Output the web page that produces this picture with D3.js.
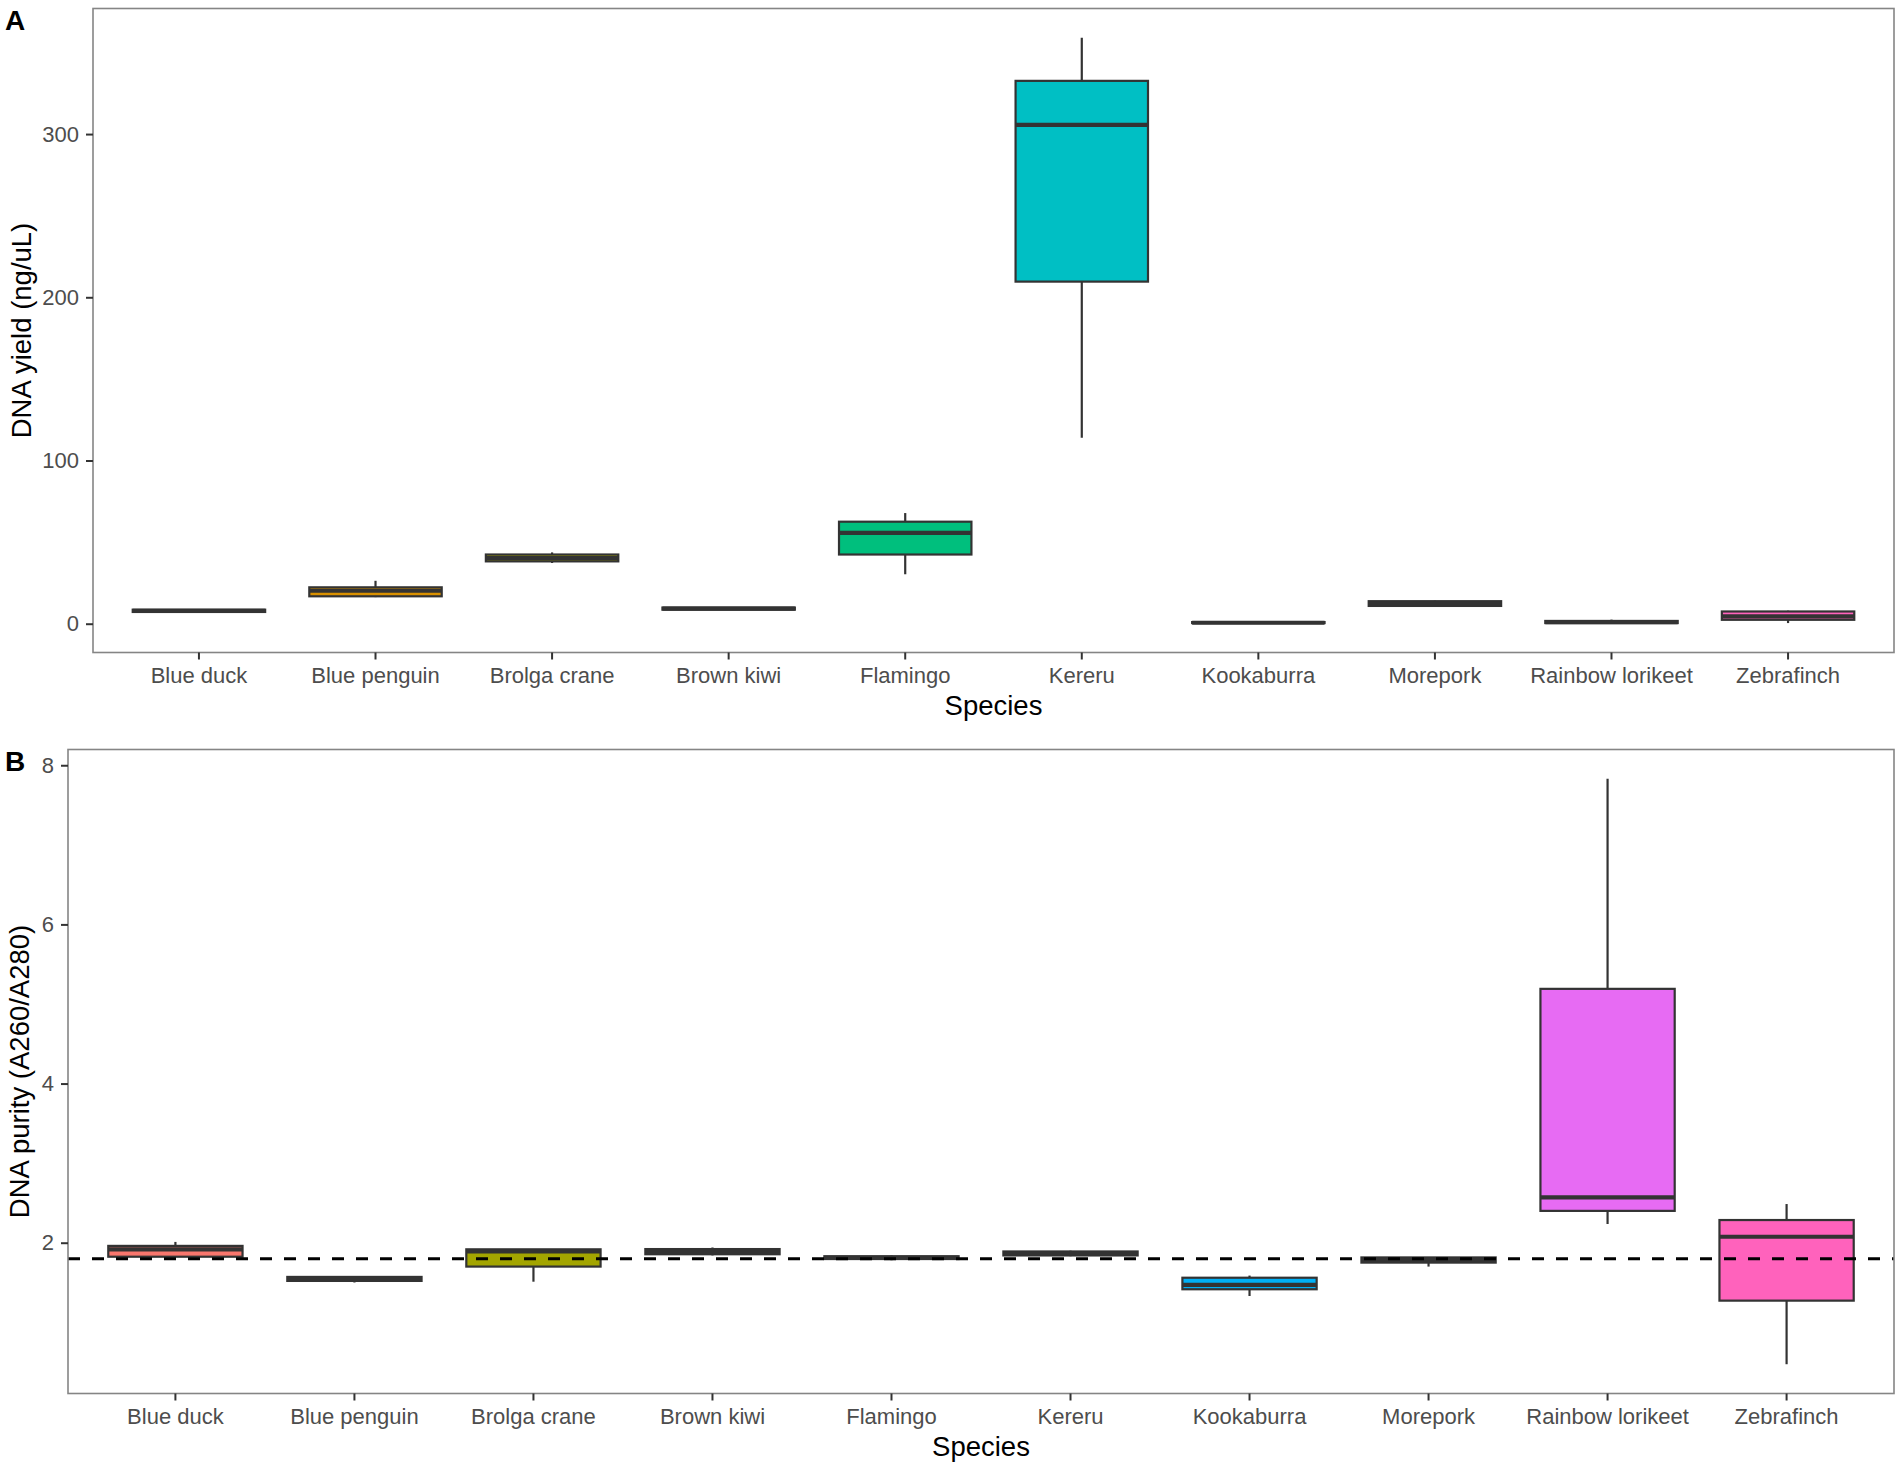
<!DOCTYPE html>
<html>
<head>
<meta charset="utf-8">
<script src="https://cdn.jsdelivr.net/npm/d3@7"></script>
<style>
  body { margin: 0; background: #fff; }
  text { font-family: "Liberation Sans", Arial, sans-serif; }
</style>
</head>
<body>
<div id="my_viz"></div>
<script>
const species = ['Blue duck', 'Blue penguin', 'Brolga crane', 'Brown kiwi', 'Flamingo',
    'Kereru', 'Kookaburra', 'Morepork', 'Rainbow lorikeet', 'Zebrafinch'];
const colors = ['#F8766D', '#D89000', '#A3A500', '#39B600', '#00BF7D',
    '#00BFC4', '#00B0F6', '#9590FF', '#E76BF3', '#FF62BC'];

// panel A: DNA yield (ng/uL)
const yieldMin = [6.8, 16.3, 37.2, 8.4, 30.3, 114, 0.3, 10.6, 0.3, 0.4];
const yieldQ1 = [7.2, 16.8, 38.2, 8.6, 42.4, 209.6, 0.4, 10.9, 0.4, 2.4];
const yieldMed = [7.9, 20.2, 40.2, 9.3, 55.7, 305.6, 0.6, 12.4, 0.9, 4.5];
const yieldQ3 = [8.6, 22.3, 42.4, 9.9, 62.5, 332.6, 1.0, 13.8, 1.7, 7.5];
const yieldMax = [9.0, 26.3, 43.7, 10.1, 67.8, 359, 1.2, 14.1, 2.5, 8.0];
const yieldTicks = [0, 100, 200, 300];

// panel B: DNA purity (A260/A280)
const purityMin = [1.82, 1.50, 1.51, 1.84, 1.78, 1.83, 1.33, 1.70, 2.235, 0.473];
const purityQ1 = [1.824, 1.52, 1.70, 1.855, 1.795, 1.84, 1.415, 1.75, 2.40, 1.272];
const purityMed = [1.917, 1.55, 1.89, 1.885, 1.81, 1.865, 1.47, 1.785, 2.57, 2.075];
const purityQ3 = [1.96, 1.57, 1.917, 1.92, 1.83, 1.89, 1.56, 1.815, 5.19, 2.285];
const purityMax = [2.01, 1.58, 1.92, 1.94, 1.84, 1.90, 1.587, 1.82, 7.83, 2.486];
const purityTicks = [2, 4, 6, 8];
const purityRef = 1.8;

const width = 1902;
const height = 1469;

const svg = d3.select('#my_viz')
    .append('svg')
    .attr('width', width)
    .attr('height', height)
    .attr('viewBox', [0, 0, width, height]);

function panel(opts) {
    const { left, right, top, bottom, mins, q1s, meds, q3s, maxs, ticks, label, yTitle, yTitleX, xTitleY, refLine } = opts;

    const lo = d3.min(mins), hi = d3.max(maxs);
    const pad = (hi - lo) * 0.05;

    const x = d3.scaleBand()
        .domain(species)
        .range([left, right])
        .paddingInner(0)
        .paddingOuter(0.1);

    const y = d3.scaleLinear()
        .domain([lo - pad, hi + pad])
        .range([bottom, top]);

    const data = species.map((s, i) => ({
        s, i, min: mins[i], q1: q1s[i], med: meds[i], q3: q3s[i], max: maxs[i]
    }));
    const bw = x.step() * 0.75;
    const cx = d => x(d.s) + x.bandwidth() / 2;

    const g = svg.append('g');

    // whiskers
    g.append('g')
        .selectAll('line')
        .data(data)
        .join('line')
        .attr('x1', cx).attr('x2', cx)
        .attr('y1', d => y(d.min)).attr('y2', d => y(d.max))
        .attr('stroke', '#333333')
        .attr('stroke-width', 2.2);

    // boxes
    g.append('g')
        .selectAll('rect')
        .data(data)
        .join('rect')
        .attr('x', d => cx(d) - bw / 2)
        .attr('y', d => y(d.q3))
        .attr('width', bw)
        .attr('height', d => Math.max(0, y(d.q1) - y(d.q3)))
        .attr('fill', d => colors[d.i])
        .attr('stroke', '#333333')
        .attr('stroke-width', 2.2);

    // medians
    g.append('g')
        .selectAll('line')
        .data(data)
        .join('line')
        .attr('x1', d => cx(d) - bw / 2).attr('x2', d => cx(d) + bw / 2)
        .attr('y1', d => y(d.med)).attr('y2', d => y(d.med))
        .attr('stroke', '#333333')
        .attr('stroke-width', 4.2);

    if (refLine !== undefined) {
        g.append('line')
            .attr('x1', left).attr('x2', right)
            .attr('y1', y(refLine)).attr('y2', y(refLine))
            .attr('stroke', '#000')
            .attr('stroke-width', 3)
            .attr('stroke-dasharray', '12,12');
    }

    // panel border
    g.append('rect')
        .attr('x', left).attr('y', top)
        .attr('width', right - left).attr('height', bottom - top)
        .attr('fill', 'none')
        .attr('stroke', '#858585')
        .attr('stroke-width', 1.6);

    function xAxis(a) {
        a.attr('transform', `translate(0,${bottom})`)
            .call(d3.axisBottom(x).tickSize(7).tickPadding(8).tickSizeOuter(0))
            .call(a => a.select('.domain').remove())
            .call(a => a.selectAll('line').attr('stroke', '#333333').attr('stroke-width', 2))
            .call(a => a.selectAll('text').attr('fill', '#4d4d4d').attr('font-size', '22px')
                .style('font-family', '"Liberation Sans", Arial, sans-serif'));
    }
    function yAxis(a) {
        a.attr('transform', `translate(${left},0)`)
            .call(d3.axisLeft(y).tickValues(ticks).tickSize(7).tickPadding(7).tickSizeOuter(0))
            .call(a => a.select('.domain').remove())
            .call(a => a.selectAll('line').attr('stroke', '#333333').attr('stroke-width', 2))
            .call(a => a.selectAll('text').attr('fill', '#4d4d4d').attr('font-size', '22px')
                .style('font-family', '"Liberation Sans", Arial, sans-serif'));
    }
    g.append('g').call(xAxis);
    g.append('g').call(yAxis);

    g.append('text')
        .attr('x', (left + right) / 2)
        .attr('y', xTitleY)
        .attr('text-anchor', 'middle')
        .attr('font-size', '27.5px')
        .attr('fill', '#000')
        .text('Species');

    g.append('text')
        .attr('transform', `translate(${yTitleX},${(top + bottom) / 2}) rotate(-90)`)
        .attr('text-anchor', 'middle')
        .attr('font-size', '27.5px')
        .attr('fill', '#000')
        .text(yTitle);

    g.append('text')
        .attr('x', 5)
        .attr('y', label.y)
        .attr('font-size', '28px')
        .attr('font-weight', 'bold')
        .attr('fill', '#000')
        .text(label.text);
}

panel({
    left: 93, right: 1894, top: 8.5, bottom: 652.5,
    mins: yieldMin, q1s: yieldQ1, meds: yieldMed, q3s: yieldQ3, maxs: yieldMax,
    ticks: yieldTicks, label: { text: 'A', y: 30 },
    yTitle: 'DNA yield (ng/uL)', yTitleX: 30.5, xTitleY: 715
});

panel({
    left: 68, right: 1894, top: 749.5, bottom: 1393.5,
    mins: purityMin, q1s: purityQ1, meds: purityMed, q3s: purityQ3, maxs: purityMax,
    ticks: purityTicks, label: { text: 'B', y: 771 },
    yTitle: 'DNA purity (A260/A280)', yTitleX: 28.7, xTitleY: 1456,
    refLine: purityRef
});
</script>
</body>
</html>
